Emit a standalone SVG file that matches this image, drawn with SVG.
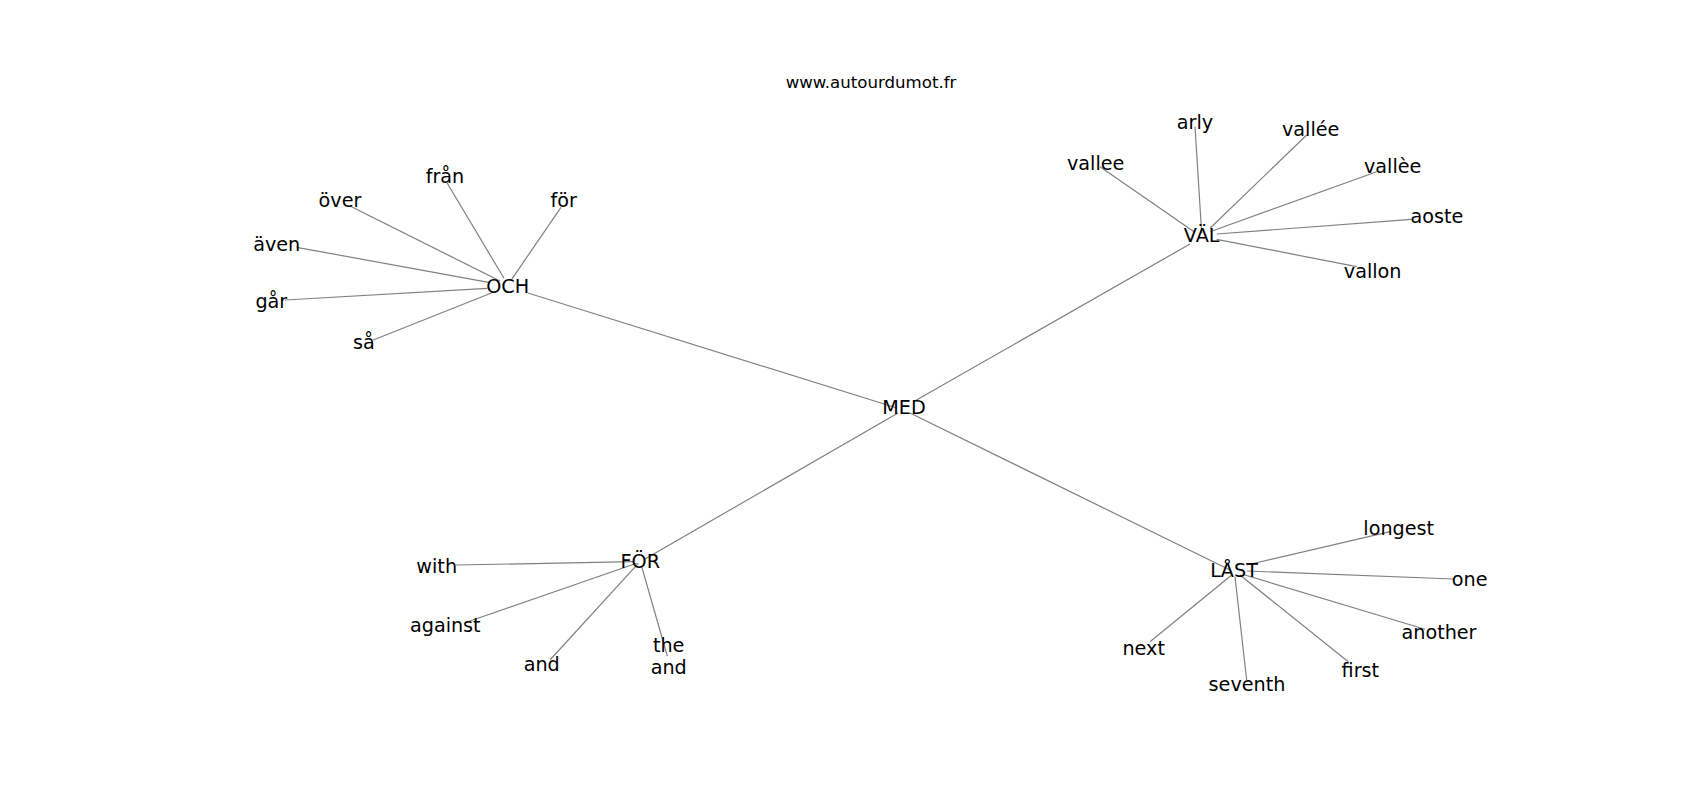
<svg xmlns="http://www.w3.org/2000/svg" width="1700" height="800" viewBox="0 0 1700 800">
<style>
.e{stroke:#808080;stroke-width:1.2;fill:none;stroke-linecap:butt}
.t{font-family:"DejaVu Sans","Liberation Sans",sans-serif;font-size:19.2px;fill:#000;text-anchor:middle}
.title{font-family:"DejaVu Sans","Liberation Sans",sans-serif;font-size:16.6px;fill:#000;text-anchor:middle}
</style>
<rect width="1700" height="800" fill="#fff"/>
<text class="title" x="871" y="88">www.autourdumot.fr</text>
<g id="connectors">
<line class="e" x1="528" y1="293" x2="897" y2="408"/>
<line class="e" x1="913" y1="402" x2="1190" y2="244"/>
<line class="e" x1="645" y1="559" x2="898" y2="413"/>
<line class="e" x1="910" y1="413" x2="1230" y2="570"/>
<line class="e" x1="350" y1="206" x2="500" y2="281"/>
<line class="e" x1="446.7" y1="182.3" x2="504" y2="278.3"/>
<line class="e" x1="561" y1="207.3" x2="511.7" y2="279.3"/>
<line class="e" x1="296.7" y1="247.3" x2="490" y2="282.7"/>
<line class="e" x1="285" y1="300" x2="487.3" y2="288.3"/>
<line class="e" x1="373.3" y1="340" x2="493.3" y2="292.3"/>
<line class="e" x1="1195" y1="126.7" x2="1201.7" y2="233.3"/>
<line class="e" x1="1100" y1="166.7" x2="1194" y2="231.7"/>
<line class="e" x1="1306.7" y1="135" x2="1210" y2="228.3"/>
<line class="e" x1="1376.7" y1="171.7" x2="1210" y2="231.7"/>
<line class="e" x1="1411.7" y1="219.3" x2="1216.7" y2="234"/>
<line class="e" x1="1356.7" y1="266.7" x2="1216.7" y2="239.3"/>
<line class="e" x1="1390" y1="531.7" x2="1246.7" y2="565"/>
<line class="e" x1="1453.3" y1="579" x2="1246.7" y2="571"/>
<line class="e" x1="1425" y1="629.3" x2="1245" y2="575"/>
<line class="e" x1="1348.3" y1="661.7" x2="1240" y2="575"/>
<line class="e" x1="1246.7" y1="680" x2="1235" y2="576.7"/>
<line class="e" x1="1150" y1="641.7" x2="1231.7" y2="575"/>
<line class="e" x1="456" y1="565" x2="633.3" y2="561.7"/>
<line class="e" x1="465" y1="622.7" x2="636.7" y2="563.3"/>
<line class="e" x1="550" y1="660" x2="638.3" y2="563.3"/>
<line class="e" x1="667.3" y1="656" x2="641.7" y2="566.7"/>
</g>
<g id="n-MED"><text class="t" x="904" y="414.3">MED</text></g>
<g id="n-OCH"><text class="t" x="507.7" y="292.8">OCH</text></g>
<g id="n-fran"><text class="t" x="445" y="183.4">från</text></g>
<g id="n-over"><text class="t" x="340" y="207.4">över</text></g>
<g id="n-for"><text class="t" x="563.7" y="207.4">för</text></g>
<g id="n-aven"><text class="t" x="276.7" y="251.2">även</text></g>
<g id="n-gar"><text class="t" x="271.3" y="307.6">går</text></g>
<g id="n-sa"><text class="t" x="364" y="349.4">så</text></g>
<g id="n-VAL"><text class="t" x="1201.7" y="242.4">VÄL</text></g>
<g id="n-arly"><text class="t" x="1195" y="129.4">arly</text></g>
<g id="n-vallee-acute"><text class="t" x="1310.7" y="136.2">vallée</text></g>
<g id="n-vallee"><text class="t" x="1095.7" y="169.5">vallee</text></g>
<g id="n-vallee-grave"><text class="t" x="1392.7" y="173">vallèe</text></g>
<g id="n-aoste"><text class="t" x="1437" y="223.3">aoste</text></g>
<g id="n-vallon"><text class="t" x="1372.7" y="277.5">vallon</text></g>
<g id="n-LAST"><text class="t" x="1234" y="576.6">LÅST</text></g>
<g id="n-longest"><text class="t" x="1398.7" y="534.5">longest</text></g>
<g id="n-one"><text class="t" x="1469.7" y="586">one</text></g>
<g id="n-another"><text class="t" x="1439" y="638.5">another</text></g>
<g id="n-next"><text class="t" x="1143.7" y="654.5">next</text></g>
<g id="n-first"><text class="t" x="1360.3" y="676.5">first</text></g>
<g id="n-seventh"><text class="t" x="1247" y="690.8">seventh</text></g>
<g id="n-FOR"><text class="t" x="640.3" y="567.6">FÖR</text></g>
<g id="n-with"><text class="t" x="436.7" y="572.6">with</text></g>
<g id="n-against"><text class="t" x="445.3" y="632">against</text></g>
<g id="n-and"><text class="t" x="541.7" y="670.5">and</text></g>
<g id="n-the-and"><text class="t" x="668.7" y="651.7">the</text><text class="t" x="668.7" y="673.7">and</text></g>
</svg>
